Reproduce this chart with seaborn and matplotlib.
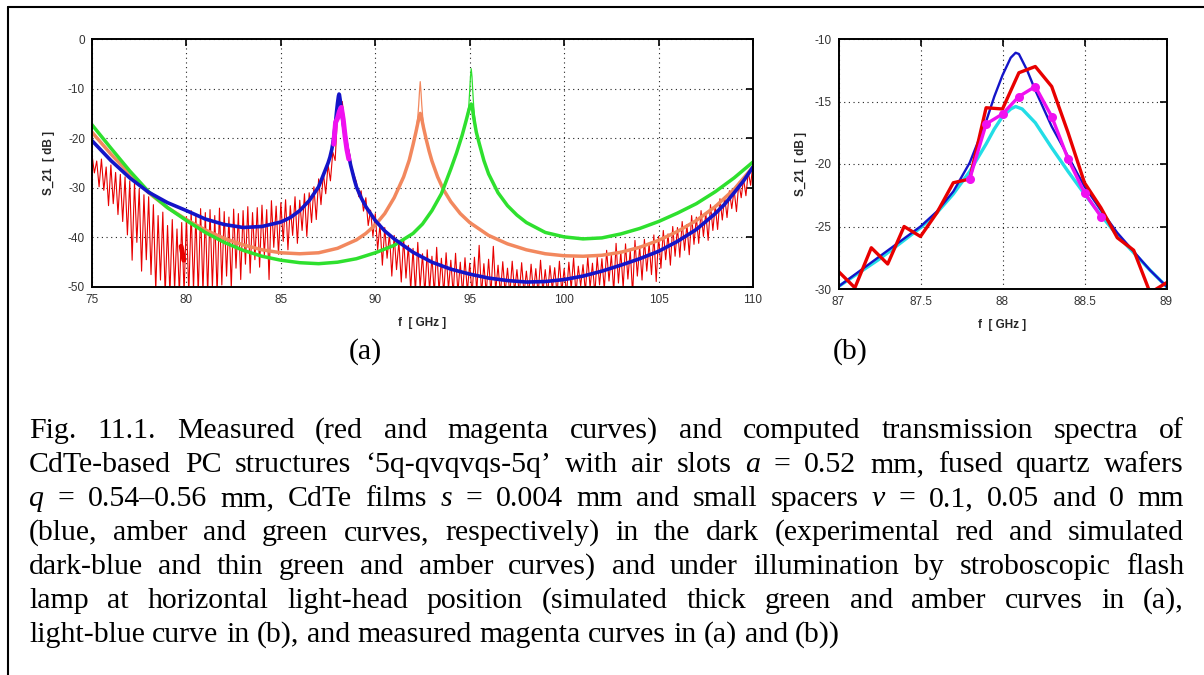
import numpy as np
import matplotlib
matplotlib.use("Agg")
import matplotlib.pyplot as plt
import seaborn as sns
from matplotlib.lines import Line2D

# ---------------- data ----------------
# simulated dark spectrum (dark blue), used in both panels
blue_f = [75, 76, 77, 78, 79, 80, 81, 82, 83, 84, 85, 85.5, 86, 86.5, 87, 87.25, 87.5,
          87.6, 87.7, 87.8, 87.9, 87.95, 88.0, 88.05, 88.08, 88.1, 88.15, 88.2, 88.3,
          88.4, 88.5, 88.6, 88.7, 88.8, 88.9, 89.0, 89.25, 89.5, 90, 90.5, 91, 92, 93,
          94, 95, 96, 97, 98, 99, 100, 101, 102, 103, 104, 105, 106, 107, 108, 108.5,
          109, 109.5, 110]
blue_db = [-20.5, -24.5, -28.0, -30.9, -33.0, -34.6, -36.3, -37.4, -38.0, -37.8, -36.9,
           -36.0, -34.6, -32.6, -29.8, -27.4, -25.0, -23.8, -22.2, -19.9, -16.6, -14.6,
           -12.9, -11.5, -11.1, -11.2, -12.5, -14.1, -17.0, -19.4, -21.8, -23.7, -25.5,
           -27.0, -28.5, -29.8, -32.0, -33.8, -36.6, -38.7, -40.3, -43.0, -45.0, -46.4,
           -47.4, -48.2, -48.7, -49.0, -48.9, -48.5, -47.8, -46.8, -45.6, -44.3, -42.8,
           -40.8, -38.4, -35.2, -33.3, -31.0, -28.6, -25.8]

# amber (v = 0.05 mm), thick curve under illumination
amber_f = [75, 76, 77, 78, 79, 80, 81, 82, 83, 84, 85, 86, 87, 88, 89, 89.5, 90, 90.5,
           91, 91.5, 91.8, 92.0, 92.15, 92.25, 92.32, 92.38, 92.45, 92.55, 92.7, 92.85,
           93.0, 93.3, 93.6, 94.0, 94.5, 95, 96, 97, 98, 99, 100, 101, 102, 103, 104,
           105, 106, 107, 108, 109, 110]
amber_db = [-18.8, -23.2, -27.2, -31.0, -34.0, -36.4, -38.5, -40.2, -41.5, -42.5, -43.1,
            -43.3, -43.1, -42.2, -40.5, -39.2, -37.5, -35.2, -32.0, -27.8, -24.4, -21.3,
            -18.8, -17.0, -15.8, -15.0, -15.9, -17.8, -20.3, -22.6, -24.6, -27.8, -30.3,
            -32.8, -35.2, -37.0, -39.6, -41.3, -42.5, -43.3, -43.7, -43.8, -43.6, -43.0,
            -42.0, -40.6, -38.8, -36.6, -33.8, -30.3, -25.8]
# amber, thin curve (dark) around its resonance
amber_thin_f = [92.0, 92.15, 92.25, 92.3, 92.34, 92.38, 92.42, 92.46, 92.52, 92.6, 92.75]
amber_thin_db = [-21.3, -18.6, -15.8, -13.2, -10.6, -8.6, -10.6, -13.2, -16.2, -18.8, -21.4]

# green (v = 0 mm), thick curve under illumination
green_f = [75, 76, 77, 78, 79, 80, 81, 82, 83, 84, 85, 86, 87, 88, 89, 90, 91, 92, 92.5,
           93, 93.5, 94, 94.3, 94.6, 94.8, 94.95, 95.03, 95.08, 95.13, 95.2, 95.35, 95.5,
           95.75, 96, 96.5, 97, 97.5, 98, 99, 100, 101, 102, 103, 104, 105, 106, 107,
           108, 109, 110]
green_db = [-17.3, -22.0, -26.6, -30.8, -34.0, -36.6, -39.0, -41.0, -42.6, -43.8, -44.6,
            -45.1, -45.3, -45.0, -44.3, -43.1, -41.6, -39.2, -37.3, -34.6, -31.2, -26.2,
            -23.0, -19.4, -16.6, -14.4, -13.4, -13.1, -13.5, -15.6, -18.8, -21.0, -24.5,
            -27.2, -31.0, -33.6, -35.5, -37.0, -39.0, -39.9, -40.3, -40.1, -39.3, -38.2,
            -36.8, -35.1, -33.2, -30.8, -28.0, -24.8]
# green, thin curve (dark) around its resonance
green_thin_f = [94.8, 94.95, 95.0, 95.04, 95.08, 95.12, 95.16, 95.22, 95.35]
green_thin_db = [-16.6, -13.6, -10.4, -7.6, -6.0, -7.6, -10.4, -14.2, -18.8]

# measured spectrum under illumination (magenta), 0.1 GHz steps
mag_f = [87.8, 87.9, 88.0, 88.1, 88.2, 88.3, 88.4, 88.5, 88.6]
mag_db = [-21.2, -16.8, -16.0, -14.6, -13.8, -16.2, -19.6, -22.3, -24.2]

# light-blue simulated spectrum under illumination (panel b)
cyan_f = [87.0, 87.25, 87.5, 87.6, 87.7, 87.8, 87.9, 87.95, 88.0, 88.05, 88.08, 88.12,
          88.2, 88.3, 88.4, 88.5, 88.6, 88.7, 88.8, 88.9, 89.0]
cyan_db = [-29.8, -27.6, -25.1, -23.9, -22.4, -20.6, -18.4, -17.2, -16.2, -15.6, -15.4,
           -15.6, -16.7, -18.7, -20.6, -22.4, -24.1, -25.7, -27.1, -28.5, -29.8]

# measured dark spectrum, panel b (0.1 GHz steps)
red_b_f = [87.0, 87.1, 87.2, 87.3, 87.4, 87.5, 87.6, 87.7, 87.8, 87.9, 88.0, 88.1, 88.2,
           88.3, 88.4, 88.5, 88.6, 88.7, 88.8, 88.9, 89.0]
red_b_db = [-28.6, -29.9, -26.7, -28.0, -25.0, -25.8, -23.9, -21.5, -21.2, -15.5, -15.6,
            -12.7, -12.2, -13.8, -17.5, -21.5, -23.5, -25.9, -26.9, -30.3, -29.5]

# measured dark spectrum, panel a: local maxima (every 0.25 GHz from 75 GHz)
red_hi = [-23.3, -24.6, -24.2, -25.8, -25.4, -26.9, -27.3, -27.8, -28.6, -28.9, -30.2, -31.4,
          -31.8, -33.4, -35.6, -34.9, -37.6, -36.4, -38.3, -37.0, -35.8, -34.6, -35.3, -34.2,
          -35.0, -34.4, -35.6, -34.1, -34.8, -35.9, -34.3, -35.2, -34.6, -33.8, -35.0, -34.0,
          -33.5, -34.4, -32.6, -33.7, -33.0, -32.4, -33.6, -31.8, -32.5, -31.2, -31.0, -29.8,
          -28.2, -27.0, -25.3, -22.8, -15.2, -12.6, -21.0, -25.8, -28.8, -30.6, -32.0, -34.5,
          -35.2, -37.3, -38.0, -39.2, -39.6, -40.8, -40.2, -41.6, -42.2, -41.0, -43.3, -42.5,
          -43.8, -42.0, -44.2, -43.1, -44.6, -43.2, -45.0, -44.1, -45.2, -44.0, -41.6, -45.3,
          -44.4, -41.8, -45.6, -44.9, -46.2, -44.8, -46.5, -45.1, -46.8, -45.4, -46.3, -44.6,
          -46.5, -45.7, -46.1, -44.8, -46.3, -45.0, -44.1, -45.8, -45.5, -43.9, -45.2, -44.0,
          -44.3, -42.6, -43.5, -41.2, -42.8, -41.3, -42.5, -40.6, -41.8, -40.4, -41.2, -39.5,
          -39.8, -38.6, -39.3, -37.8, -38.0, -36.8, -37.4, -35.6, -35.9, -34.6, -35.0, -33.4,
          -33.5, -32.2, -31.8, -30.6, -30.4, -28.9, -28.2, -26.8, -25.0]
# local minima, half a step after each maximum
red_lo = [-27.0, -29.8, -30.5, -33.6, -33.2, -35.4, -36.8, -39.5, -44.6, -41.0, -46.8, -44.5,
          -47.5, -50.8, -48.6, -51.5, -51.5, -50.5, -51.5, -51.2, -51.5, -50.6, -51.5, -51.0,
          -51.5, -50.2, -51.5, -49.6, -47.8, -50.3, -46.2, -48.5, -45.4, -47.2, -44.5, -46.0,
          -43.6, -48.5, -42.0, -43.4, -40.8, -42.5, -39.6, -41.2, -38.6, -39.8, -37.0, -36.4,
          -33.4, -31.2, -28.6, -24.5, -14.0, -16.8, -22.8, -27.4, -31.8, -34.7, -37.6, -39.8,
          -42.5, -45.6, -44.2, -47.8, -46.5, -49.0, -48.2, -50.6, -51.0, -50.2, -51.5, -50.8,
          -51.5, -51.0, -51.5, -50.5, -51.5, -51.2, -51.5, -51.0, -51.5, -51.0, -51.5, -51.3,
          -51.5, -50.8, -51.5, -51.2, -51.5, -51.0, -51.5, -51.4, -51.5, -51.2, -51.5, -51.0,
          -51.5, -50.6, -51.5, -51.0, -51.5, -50.4, -51.5, -49.8, -51.0, -50.2, -51.5, -49.6,
          -50.5, -48.8, -51.0, -49.2, -50.2, -48.4, -51.5, -47.8, -48.6, -46.8, -47.5, -48.9,
          -46.2, -44.5, -45.6, -43.8, -44.0, -42.6, -43.5, -41.4, -41.2, -39.8, -40.6, -38.6,
          -38.4, -36.5, -36.0, -34.2, -34.8, -32.0, -31.6, -29.5]
red_blob_f = [79.72, 79.86]
red_blob_db = [-41.8, -44.6]

xticks_a = [75, 80, 85, 90, 95, 100, 105, 110]
yticks_a = [0, -10, -20, -30, -40, -50]
xticks_b = [87, 87.5, 88, 88.5, 89]
xticklabels_b = ["87", "87.5", "88", "88.5", "89"]
yticks_b = [-10, -15, -20, -25, -30]

caption_lines = [
    "Fig. 11.1. Measured (red and magenta curves) and computed transmission spectra of",
    "CdTe-based PC structures ‘5q-qvqvqs-5q’ with air slots *a = 0.52 mm, fused quartz wafers",
    "*q = 0.54–0.56 mm, CdTe films *s = 0.004 mm and small spacers *v = 0.1, 0.05 and 0 mm",
    "(blue, amber and green curves, respectively) in the dark (experimental red and simulated",
    "dark-blue and thin green and amber curves) and under illumination by stroboscopic flash",
    "lamp at horizontal light-head position (simulated thick green and amber curves in (a),",
    "light-blue curve in (b), and measured magenta curves in (a) and (b))",
]

# ---------------- style ----------------
sns.set_theme(style="white")
plt.rcParams.update({
    "font.family": ["Liberation Sans", "DejaVu Sans"],
    "axes.edgecolor": "black",
    "axes.linewidth": 1.4,
    "axes.unicode_minus": False,
    "xtick.color": "black",
    "ytick.color": "black",
    "text.color": "black",
})

C_RED = "#e80000"
C_BLUE = "#1414c8"
C_AMBER = "#f2885e"
C_GREEN = "#2ee02e"
C_MAG = "#f010f0"
C_CYAN = "#22dde6"

W, H = 1204, 675
fig = plt.figure(figsize=(W / 100, H / 100), dpi=100)
fig.patch.set_facecolor("white")

axA = fig.add_axes([92 / W, 1 - 287 / H, (753 - 92) / W, (287 - 39) / H])
axB = fig.add_axes([838.5 / W, 1 - 289 / H, (1166.5 - 838.5) / W, (289 - 39) / H])


def line(ax, x, y, color, lw, **kw):
    sns.lineplot(x=x, y=y, ax=ax, color=color, linewidth=lw, sort=False,
                 estimator=None, legend=False, **kw)


# ---- panel (a) ----
f_hi = 75 + 0.25 * np.arange(len(red_hi))
f_lo = 75.125 + 0.25 * np.arange(len(red_lo))
red_f = np.empty(len(f_hi) + len(f_lo))
red_db = np.empty_like(red_f)
red_f[0::2], red_f[1::2] = f_hi, f_lo
red_db[0::2], red_db[1::2] = red_hi, red_lo

line(axA, red_f, red_db, C_RED, 0.8)
line(axA, red_blob_f, red_blob_db, C_RED, 3.5)
line(axA, amber_thin_f, amber_thin_db, C_AMBER, 0.9)
line(axA, amber_f, amber_db, C_AMBER, 2.5)
line(axA, green_thin_f, green_thin_db, C_GREEN, 0.9)
line(axA, green_f, green_db, C_GREEN, 2.5)
line(axA, blue_f, blue_db, C_BLUE, 2.6)
line(axA, mag_f, mag_db, C_MAG, 3.6)

# ---- panel (b) ----
line(axB, cyan_f, cyan_db, C_CYAN, 2.4)
line(axB, blue_f, blue_db, C_BLUE, 1.7)
line(axB, red_b_f, red_b_db, C_RED, 2.4)
line(axB, mag_f, mag_db, C_MAG, 2.4, marker="o", markersize=6.5,
     markeredgewidth=0, markerfacecolor=C_MAG)


def style(ax, xlim, ylim, xt, yt, xtl=None, ylabelpad=8):
    ax.set_xlim(*xlim)
    ax.set_ylim(*ylim)
    ax.set_xticks(xt)
    if xtl is not None:
        ax.set_xticklabels(xtl)
    ax.set_yticks(yt)
    ax.grid(True, color="#222222", linestyle=(0, (1, 3.2)), linewidth=0.8)
    ax.set_axisbelow(True)
    ax.tick_params(direction="in", top=True, right=True, length=5, width=1.2,
                   labelsize=8.5, labelcolor="#333333", pad=5)
    for s in ax.spines.values():
        s.set_visible(True)
        s.set_linewidth(1.4)
        s.set_color("black")
    ax.set_xlabel("f  [ GHz ]", fontsize=8.5, fontweight="bold", labelpad=8)
    ax.set_ylabel("S_21  [ dB ]", fontsize=8.5, fontweight="bold", labelpad=ylabelpad)


style(axA, (75, 110), (-50, 0), xticks_a, yticks_a, ylabelpad=9)
style(axB, (87, 89), (-30, -10), xticks_b, yticks_b, xticklabels_b, ylabelpad=5)

# panel tags
serif = ["Liberation Serif", "DejaVu Serif"]
fig.text(365 / W, 1 - 352 / H, "(a)", ha="center", va="center", fontsize=21.5,
         family=serif, color="black")
fig.text(850 / W, 1 - 352 / H, "(b)", ha="center", va="center", fontsize=21.5,
         family=serif, color="black")

# ---- justified caption ----
cap_size = 21.5
x_left, x_right = 29, 1184
base0, step = 438, 34
renderer = fig.canvas.get_renderer()
space_px = 0.25 * cap_size * 100 / 72
for i, text in enumerate(caption_lines):
    yb = 1 - (base0 + i * step) / H
    arts = []
    for word in text.split(" "):
        italic = word.startswith("*")
        t = fig.text(0, yb, word[1:] if italic else word, fontsize=cap_size,
                     family=serif, style="italic" if italic else "normal",
                     va="baseline", ha="left", color="black")
        arts.append(t)
    widths = [a.get_window_extent(renderer).width for a in arts]
    last = i == len(caption_lines) - 1
    if last or len(arts) == 1:
        gap = space_px
    else:
        gap = (x_right - x_left - sum(widths)) / (len(arts) - 1)
    x = x_left
    for a, w in zip(arts, widths):
        a.set_x(x / W)
        x += w + gap

# outer frame (left and top edges)
fig.add_artist(Line2D([8 / W, 8 / W], [0, 1 - 7 / H], color="black", lw=1.5,
                      transform=fig.transFigure))
fig.add_artist(Line2D([8 / W, 1], [1 - 7 / H, 1 - 7 / H], color="black", lw=1.5,
                      transform=fig.transFigure))

fig.savefig("out.png", dpi=100, facecolor="white")
